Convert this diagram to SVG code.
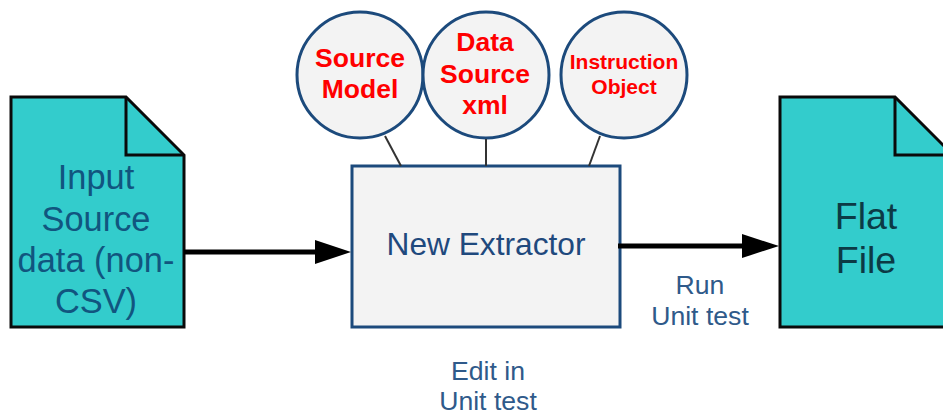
<svg xmlns="http://www.w3.org/2000/svg" width="943" height="415" viewBox="0 0 943 415">
<style>
text{font-family:"Liberation Sans",Arial,sans-serif;text-anchor:middle}
.doc{fill:#33cccc;stroke:#0a0a0a;stroke-width:3;stroke-linejoin:miter}
.fold{fill:none;stroke:#0a0a0a;stroke-width:3}
.circ{fill:#f3f3f3;stroke:#1c4a7c;stroke-width:3}
.box{fill:#f3f3f3;stroke:#1c4a7c;stroke-width:3}
.red{fill:#ff0000;font-weight:bold}
.blue{fill:#1f497d}
.in{fill:#11557f;font-size:34.4px}
.ft{fill:#0c3a45;font-size:37.6px}
.lbl{fill:#2f5a8a;font-size:26.6px}
.lnk{stroke:#333;stroke-width:2;fill:none}
.arr{stroke:#000;stroke-width:5;fill:none}
.head{fill:#000}
</style>
<g id="input-doc">
<path class="doc" d="M11 97H126L184 155V327H11Z"/>
<path class="fold" d="M126 97V155H184"/>
<text class="in" x="96" y="189">Input</text>
<text class="in" x="96" y="231">Source</text>
<text class="in" x="96" y="272">data (non-</text>
<text class="in" x="96" y="313">CSV)</text>
</g>
<g id="source-model">
<circle class="circ" cx="360" cy="75" r="63"/>
<text class="red" font-size="26.5" x="360" y="67">Source</text>
<text class="red" font-size="26.5" x="360" y="98">Model</text>
</g>
<g id="data-source-xml">
<circle class="circ" cx="486" cy="75" r="63"/>
<text class="red" font-size="26.5" x="485" y="51">Data</text>
<text class="red" font-size="26.5" x="485" y="83">Source</text>
<text class="red" font-size="26.5" x="485" y="114">xml</text>
</g>
<g id="instruction-object">
<circle class="circ" cx="624" cy="75" r="63"/>
<text class="red" font-size="21" x="624" y="69">Instruction</text>
<text class="red" font-size="21" x="624" y="94">Object</text>
</g>
<g id="new-extractor">
<rect class="box" x="352" y="166" width="268" height="161"/>
<text class="blue" font-size="31.7" x="486" y="255">New Extractor</text>
</g>
<g id="flat-file">
<path class="doc" d="M780 97H895L953 155V327H780Z"/>
<path class="fold" d="M895 97V155H953"/>
<text class="ft" x="866" y="229">Flat</text>
<text class="ft" x="866" y="273">File</text>
</g>
<g id="labels">
<text class="lbl" x="700" y="294">Run</text>
<text class="lbl" x="700" y="325">Unit test</text>
<text class="lbl" x="488" y="380">Edit in</text>
<text class="lbl" x="488" y="410">Unit test</text>
</g>
<g id="connectors">
<path class="lnk" d="M385 136L401 166"/>
<path class="lnk" d="M486 139V166"/>
<path class="lnk" d="M600 136L589 166"/>
<path class="arr" d="M184 252H318"/>
<polygon class="head" points="315,240 351,252 315,264"/>
<path class="arr" d="M618 246H745"/>
<polygon class="head" points="742,234 779,246 742,258"/>
</g>
</svg>
